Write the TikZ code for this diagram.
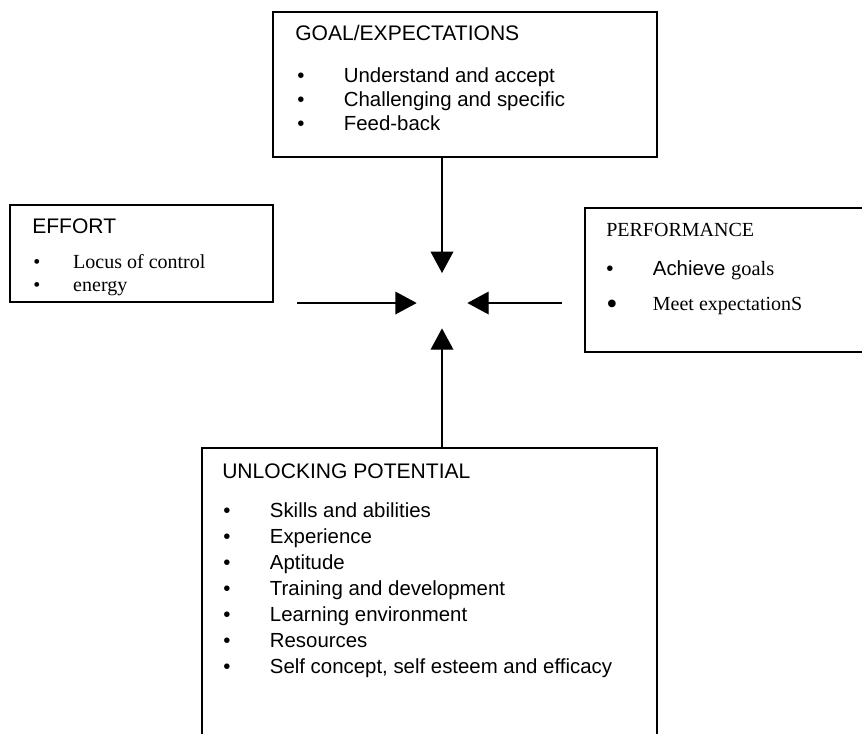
\documentclass[tikz,border=0pt]{standalone}
\usepackage{fontspec}
\setmainfont{Liberation Serif}
\setsansfont{Liberation Sans}
\usetikzlibrary{arrows.meta, positioning, fit, calc}
\tikzset{
  box/.style={rectangle, draw=black, line width=1.1pt, inner sep=0pt},
  head/.style={anchor=base west, inner sep=0pt, font=\fontsize{15.8}{18}\selectfont\sffamily},
  item/.style={anchor=base west, inner sep=0pt, font=\fontsize{15.3}{18}\selectfont\sffamily},
  seritem/.style={item, font=\fontsize{15}{18}\selectfont\rmfamily},
  arrow/.style={-{Triangle[length=16pt, width=17pt]}, line width=1pt, shorten >=19pt}
}
\newcommand{\bul}{\makebox[35pt][l]{\textbullet}}

\begin{document}
\begin{tikzpicture}[x=0.75pt, y=-0.75pt]
  \useasboundingbox (0,0) rectangle (862,733);
  \clip (0,0) rectangle (862,733);

  % Boxes
  \node[box, fit={(273,12) (657,157)}] (goal) {};
  \node[box, fit={(10,205) (273,302)}] (effort) {};
  \node[box, fit={(585,208) (890,352)}] (perf) {};
  \node[box, fit={(202,448) (657,760)}] (pot) {};

  % Goal/expectations
  \node[head] (goalhead) at (295,40) {GOAL/EXPECTATIONS};
  \foreach \txt [count=\i] in {Understand and accept, Challenging and specific, Feed-back} {
    \node[item] (goal\i) at (297, 58+24*\i) {\bul\txt};
  }

  % Effort
  \node[head] (efforthead) at (32,233) {EFFORT};
  \node[seritem] (effort1) at (33,268) {\makebox[30pt][l]{\textbullet}Locus of control};
  \node[seritem] (effort2) at (33,291) {\makebox[30pt][l]{\textbullet}energy};

  % Performance
  \node[head, font=\fontsize{15}{18}\selectfont\rmfamily] (perfhead) at (606,236) {PERFORMANCE};
  \node[item] (perf1) at (606,275) {\bul Achieve \rmfamily goals};
  \node[seritem] (perf2) at (606,310) {\makebox[35pt][l]{\raisebox{-3pt}{\fontsize{24}{24}\selectfont\textbullet}}Meet expectationS};

  % Unlocking potential
  \node[head] (pothead) at (222,478) {UNLOCKING POTENTIAL};
  \foreach \txt [count=\i] in {Skills and abilities, Experience, Aptitude, Training and development, Learning environment, Resources, {Self concept, self esteem and efficacy}} {
    \node[item] (pot\i) at (223, 491+26*\i) {\bul\txt};
  }

  % Arrows into the centre
  \coordinate (hub) at (442,303);
  \coordinate (lin) at (297,303);
  \coordinate (rin) at (562,303);
  \draw[arrow, shorten >=22.5pt] (goal.south -| hub) -- (hub);
  \draw[arrow] (pot.north -| hub) -- (hub);
  \draw[arrow] (lin) -- (hub);
  \draw[arrow] (rin) -- (hub);
\end{tikzpicture}
\end{document}
